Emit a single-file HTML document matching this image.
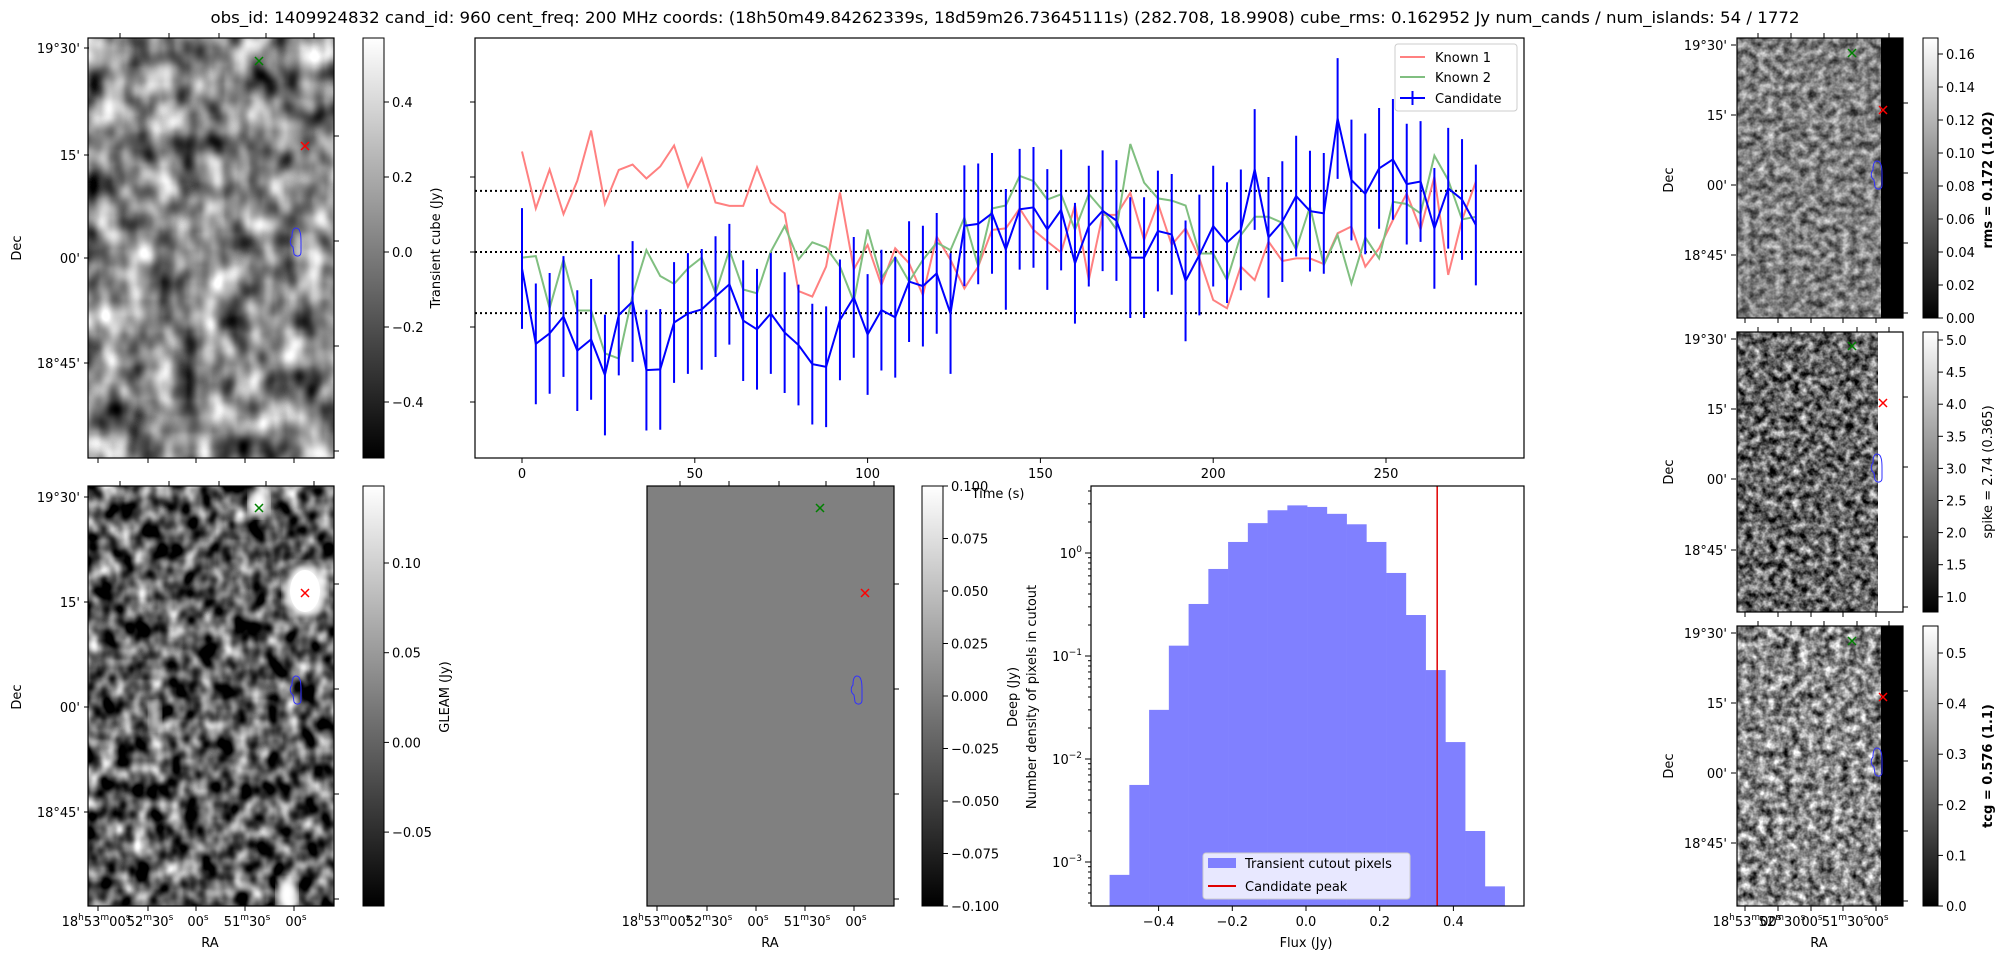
<!DOCTYPE html>
<html><head><meta charset="utf-8">
<style>
html,body{margin:0;padding:0;background:#fff;}
svg{display:block;font-family:"DejaVu Sans","Liberation Sans",sans-serif;}
text{fill:#000;}
</style></head>
<body>
<svg id="fig" xmlns="http://www.w3.org/2000/svg" width="2006" height="960" viewBox="0 0 2006 960">
<defs>
  <filter id="texA" x="0" y="0" width="1" height="1" color-interpolation-filters="sRGB">
    <feTurbulence type="fractalNoise" baseFrequency="0.04 0.03" numOctaves="2" seed="3"/>
    <feColorMatrix type="matrix" values="1.5 0 0 0 -0.22  1.5 0 0 0 -0.22  1.5 0 0 0 -0.22  0 0 0 0 1"/>
  </filter>
  <filter id="texB" x="0" y="0" width="1" height="1" color-interpolation-filters="sRGB">
    <feTurbulence type="fractalNoise" baseFrequency="0.06 0.05" numOctaves="2" seed="7"/>
    <feColorMatrix type="matrix" values="1.8 0 0 0 -0.55  1.8 0 0 0 -0.55  1.8 0 0 0 -0.55  0 0 0 0 1"/>
  </filter>
  <filter id="texC" x="0" y="0" width="1" height="1" color-interpolation-filters="sRGB">
    <feTurbulence type="fractalNoise" baseFrequency="0.12" numOctaves="3" seed="11"/>
    <feColorMatrix type="matrix" values="1.0 0 0 0 0  1.0 0 0 0 0  1.0 0 0 0 0  0 0 0 0 1"/>
  </filter>
  <filter id="texE" x="0" y="0" width="1" height="1" color-interpolation-filters="sRGB">
    <feTurbulence type="fractalNoise" baseFrequency="0.12" numOctaves="3" seed="13"/>
    <feColorMatrix type="matrix" values="1.5 0 0 0 -0.22  1.5 0 0 0 -0.22  1.5 0 0 0 -0.22  0 0 0 0 1"/>
  </filter>
  <filter id="texD" x="0" y="0" width="1" height="1" color-interpolation-filters="sRGB">
    <feTurbulence type="fractalNoise" baseFrequency="0.13" numOctaves="3" seed="21"/>
    <feColorMatrix type="matrix" values="1.5 0 0 0 -0.35  1.5 0 0 0 -0.35  1.5 0 0 0 -0.35  0 0 0 0 1"/>
  </filter>
  <filter id="blur4"><feGaussianBlur stdDeviation="4"/></filter>
  <linearGradient id="cbar" x1="0" y1="0" x2="0" y2="1">
    <stop offset="0" stop-color="#ffffff"/><stop offset="1" stop-color="#000000"/>
  </linearGradient>
  <clipPath id="clipLC"><rect x="475" y="38" width="1049" height="420"/></clipPath>
  <clipPath id="clipGL"><rect x="88" y="486" width="246" height="420"/></clipPath>
</defs>

<text x="1005" y="23" font-size="16" text-anchor="middle" textLength="1589" lengthAdjust="spacingAndGlyphs">obs_id: 1409924832 cand_id: 960 cent_freq: 200 MHz coords: (18h50m49.84262339s, 18d59m26.73645111s) (282.708, 18.9908) cube_rms: 0.162952 Jy num_cands / num_islands: 54 / 1772</text>

<g>
  <rect x="88" y="38" width="246" height="420" filter="url(#texA)"/>
  <rect x="88" y="38" width="246" height="420" fill="none" stroke="#000" stroke-width="1.2"/>
</g>
<rect x="363" y="38" width="21" height="420" fill="url(#cbar)" stroke="#000" stroke-width="1"/>
<text transform="translate(440,248) rotate(-90)" font-size="13" text-anchor="middle">Transient cube (Jy)</text>

<g clip-path="url(#clipGL)">
  <rect x="88" y="486" width="246" height="420" filter="url(#texB)"/>
  <ellipse cx="305" cy="591" rx="20" ry="26" fill="#fff" filter="url(#blur4)"/>
  <ellipse cx="305" cy="591" rx="15" ry="21" fill="#fff"/>
  <ellipse cx="259" cy="503" rx="10" ry="14" fill="#fff" filter="url(#blur4)"/>
  <ellipse cx="287" cy="895" rx="10" ry="16" fill="#fff" filter="url(#blur4)"/>
  <ellipse cx="155" cy="716" rx="6" ry="14" fill="#ccc" filter="url(#blur4)"/>
</g>
<rect x="88" y="486" width="246" height="420" fill="none" stroke="#000" stroke-width="1.2"/>
<rect x="363" y="486" width="21" height="420" fill="url(#cbar)" stroke="#000" stroke-width="1"/>
<text transform="translate(449,697) rotate(-90)" font-size="13" text-anchor="middle">GLEAM (Jy)</text>

<rect x="647" y="486" width="247" height="420" fill="#808080" stroke="#000" stroke-width="1.2"/>
<rect x="922" y="486" width="21" height="420" fill="url(#cbar)" stroke="#000" stroke-width="1"/>
<text transform="translate(1017,697) rotate(-90)" font-size="13" text-anchor="middle">Deep (Jy)</text>

<rect x="1737" y="38" width="144" height="280" filter="url(#texC)"/>
<rect x="1881" y="38" width="22" height="280" fill="#000"/>
<rect x="1737" y="38" width="166" height="280" fill="none" stroke="#000" stroke-width="1.2"/>
<rect x="1923" y="38" width="15" height="280" fill="url(#cbar)" stroke="#000" stroke-width="1"/>
<text transform="translate(1992,180) rotate(-90)" font-size="13" font-weight="bold" text-anchor="middle">rms = 0.172 (1.02)</text>

<rect x="1737" y="332" width="141" height="280" filter="url(#texD)"/>
<rect x="1878" y="332" width="25" height="280" fill="#fff"/>
<rect x="1737" y="332" width="166" height="280" fill="none" stroke="#000" stroke-width="1.2"/>
<rect x="1923" y="332" width="15" height="280" fill="url(#cbar)" stroke="#000" stroke-width="1"/>
<text transform="translate(1992,472) rotate(-90)" font-size="13" text-anchor="middle">spike = 2.74 (0.365)</text>

<rect x="1737" y="626" width="144" height="280" filter="url(#texE)"/>
<rect x="1881" y="626" width="22" height="280" fill="#000"/>
<rect x="1737" y="626" width="166" height="280" fill="none" stroke="#000" stroke-width="1.2"/>
<rect x="1923" y="626" width="15" height="280" fill="url(#cbar)" stroke="#000" stroke-width="1"/>
<text transform="translate(1992,766) rotate(-90)" font-size="13" font-weight="bold" text-anchor="middle">tcg = 0.576 (1.1)</text>

<rect x="475" y="38" width="1049" height="420" fill="none" stroke="#000" stroke-width="1.2"/>
<g id="lc" clip-path="url(#clipLC)"></g>
<g id="lcAxes"></g>
<text x="998" y="498" font-size="13" text-anchor="middle">Time (s)</text>

<g id="hist"></g>
<rect x="1091" y="486" width="433" height="420" fill="none" stroke="#000" stroke-width="1.2"/>
<text transform="translate(1036,697) rotate(-90)" font-size="13" text-anchor="middle">Number density of pixels in cutout</text>
<text x="1306" y="947" font-size="13" text-anchor="middle">Flux (Jy)</text>

<g id="misc"></g>
</svg>

<script>
var lcTimes = [];
for (var i = 0; i < 70; i++) lcTimes.push(i * 4);
var known1 = [0.268,0.116,0.22,0.101,0.19,0.324,0.128,0.219,0.233,0.196,0.228,0.284,0.174,0.249,0.132,0.123,0.123,0.226,0.132,0.103,-0.104,-0.119,-0.039,0.159,-0.046,0.019,-0.088,0.01,-0.03,-0.115,0.041,-0.021,-0.097,-0.039,0.059,0.063,0.116,0.059,0.028,-0.001,0.125,-0.075,0.099,0.099,0.158,0.032,0.13,0.019,0.063,-0.017,-0.128,-0.15,-0.039,-0.075,0.028,-0.024,-0.017,-0.017,-0.032,0.05,0.068,-0.039,0.01,0.085,0.156,0.06,0.201,-0.061,0.085,0.188];
var known2 = [-0.015,-0.011,-0.15,-0.02,-0.156,-0.156,-0.27,-0.284,-0.115,0.005,-0.064,-0.085,-0.044,-0.015,-0.11,0.005,-0.1,-0.11,0.001,0.069,-0.02,0.026,0.012,-0.039,-0.132,0.06,-0.07,-0.014,-0.079,-0.021,0.025,0.005,0.092,-0.039,0.116,0.124,0.203,0.189,0.14,0.154,0.059,0.155,0.112,0.06,0.288,0.185,0.143,0.137,0.124,-0.004,-0.004,-0.075,0.045,0.094,0.094,0.078,0.007,0.121,-0.035,0.045,-0.084,0.039,-0.017,0.134,0.128,0.103,0.257,0.192,0.087,0.094];
var candidate = [-0.044,-0.245,-0.217,-0.172,-0.263,-0.233,-0.328,-0.168,-0.132,-0.315,-0.313,-0.188,-0.164,-0.153,-0.119,-0.086,-0.183,-0.206,-0.164,-0.215,-0.248,-0.299,-0.306,-0.181,-0.121,-0.22,-0.155,-0.174,-0.079,-0.091,-0.057,-0.164,0.07,0.075,0.103,0.007,0.114,0.119,0.06,0.112,-0.03,0.069,0.11,0.084,-0.015,-0.015,0.056,0.047,-0.077,-0.008,0.069,0.025,0.059,0.22,0.039,0.081,0.149,0.109,0.103,0.356,0.192,0.155,0.223,0.247,0.181,0.188,0.063,0.17,0.14,0.072];
var candidateErr = 0.161;
var cubeRms = 0.162952;
var lcXTicks = [0, 50, 100, 150, 200, 250];
var lcYTicks = [-0.4, -0.2, 0.0, 0.2, 0.4];

var histStart = -0.533;
var histBinWidth = 0.0536;
var histDensity = [0.00075,0.0056,0.030,0.126,0.32,0.70,1.28,1.95,2.6,2.9,2.8,2.4,1.9,1.28,0.64,0.25,0.073,0.0146,0.0020,0.00058];
var candidatePeak = 0.356;
var histXTicks = [-0.4, -0.2, 0.0, 0.2, 0.4];
var histXTickLabels = ["\u22120.4", "\u22120.2", "0.0", "0.2", "0.4"];
var histYDecades = [0, -1, -2, -3];

var transCbTicks = ["0.4","0.2","0.0","\u22120.2","\u22120.4"];
var gleamCbTicks = ["0.10","0.05","0.00","\u22120.05"];
var deepCbTicks = ["0.100","0.075","0.050","0.025","0.000","\u22120.025","\u22120.050","\u22120.075","\u22120.100"];
var rmsCbTicks = ["0.16","0.14","0.12","0.10","0.08","0.06","0.04","0.02","0.00"];
var spikeCbTicks = ["5.0","4.5","4.0","3.5","3.0","2.5","2.0","1.5","1.0"];
var tcgCbTicks = ["0.5","0.4","0.3","0.2","0.1","0.0"];

var NS = "http://www.w3.org/2000/svg";
function mk(tag, attrs, parent) {
  var e = document.createElementNS(NS, tag);
  for (var k in attrs) e.setAttribute(k, attrs[k]);
  parent.appendChild(e);
  return e;
}
function txt(str, x, y, size, anchor, parent) {
  var t = mk("text", {x: x, y: y, "font-size": size, "text-anchor": anchor || "start"}, parent);
  t.textContent = str;
  return t;
}

function xL(t) { return 522 + t * 3.456; }
function yL(v) { return 252 - v * 375; }
function xH(f) { return 1306 + f * 368.5; }
function yH(d) { return 553 - Math.log10(d) * 103; }

var lc = document.getElementById("lc");
var lcAxes = document.getElementById("lcAxes");
var hist = document.getElementById("hist");
var misc = document.getElementById("misc");

[cubeRms, 0, -cubeRms].forEach(function (v) {
  var l = mk("line", {x1: 475, x2: 1524, y1: yL(v), y2: yL(v), stroke: "#000", "stroke-width": 2, "stroke-dasharray": "2,3"}, lc);
  
  
});

function seriesPath(vals) {
  var d = "";
  for (var i = 0; i < vals.length; i++) d += (i ? "L" : "M") + xL(lcTimes[i]).toFixed(1) + "," + yL(vals[i]).toFixed(1);
  return d;
}
var p1 = mk("path", {d: seriesPath(known1), fill: "none", stroke: "#ff8080", "stroke-width": 2}, lc);


var p2 = mk("path", {d: seriesPath(known2), fill: "none", stroke: "#80bf80", "stroke-width": 2}, lc);


for (var i = 0; i < candidate.length; i++) {
  var eb = mk("line", {x1: xL(lcTimes[i]), x2: xL(lcTimes[i]), y1: yL(candidate[i] - candidateErr), y2: yL(candidate[i] + candidateErr), stroke: "#0000ff", "stroke-width": 2}, lc);
  
  
}
var p3 = mk("path", {d: seriesPath(candidate), fill: "none", stroke: "#0000ff", "stroke-width": 2}, lc);



lcXTicks.forEach(function (t) {
  var tk = mk("line", {x1: xL(t), x2: xL(t), y1: 458, y2: 463, stroke: "#000"}, lcAxes);
  
  
  var lb = txt(String(t), xL(t), 478, 13, "middle", lcAxes);
  
  
});
lcYTicks.forEach(function (v) {
  var tk = mk("line", {x1: 470, x2: 475, y1: yL(v), y2: yL(v), stroke: "#000"}, lcAxes);
  
  
});

var lg = mk("g", {}, lcAxes);


mk("rect", {x: 1395, y: 44, width: 122, height: 67, rx: 3, fill: "#fff", "fill-opacity": 0.85, stroke: "#ccc"}, lg);
mk("line", {x1: 1400, x2: 1425, y1: 57, y2: 57, stroke: "#ff8080", "stroke-width": 2}, lg);
var le1 = txt("Known 1", 1435, 62, 13, "start", lg);


mk("line", {x1: 1400, x2: 1425, y1: 77, y2: 77, stroke: "#80bf80", "stroke-width": 2}, lg);
var le2 = txt("Known 2", 1435, 82, 13, "start", lg);


mk("line", {x1: 1400, x2: 1425, y1: 98, y2: 98, stroke: "#0000ff", "stroke-width": 2}, lg);
mk("line", {x1: 1412.5, x2: 1412.5, y1: 91, y2: 105, stroke: "#0000ff", "stroke-width": 2}, lg);
var le3 = txt("Candidate", 1435, 103, 13, "start", lg);



for (var b = 0; b < histDensity.length; b++) {
  var x0 = xH(histStart + b * histBinWidth), x1 = xH(histStart + (b + 1) * histBinWidth);
  var yt = yH(histDensity[b]);
  var bar = mk("rect", {x: x0, y: yt, width: x1 - x0 + 0.3, height: 906 - yt, fill: "#8080ff"}, hist);
  
  
}
var pk = mk("line", {x1: xH(candidatePeak), x2: xH(candidatePeak), y1: 486, y2: 906, stroke: "#e00000", "stroke-width": 1.5}, hist);


histXTicks.forEach(function (f, i) {
  var tk = mk("line", {x1: xH(f), x2: xH(f), y1: 906, y2: 911, stroke: "#000"}, hist);
  
  
  var lb = txt(histXTickLabels[i], xH(f), 926, 13, "middle", hist);
  
  
});
histYDecades.forEach(function (e) {
  var y = yH(Math.pow(10, e));
  mk("line", {x1: 1085, x2: 1091, y1: y, y2: y, stroke: "#000"}, hist);
  var lb = mk("text", {x: 1082, y: y + 5, "font-size": 13, "text-anchor": "end"}, hist);
  
  
  lb.textContent = "10";
  var sup = mk("tspan", {dy: -6, "font-size": 9}, lb);
  sup.textContent = (e < 0 ? "\u2212" + (-e) : String(e));
  for (var m = 2; m <= 9; m++) {
    var ym = yH(Math.pow(10, e) * m);
    if (ym > 486) mk("line", {x1: 1088, x2: 1091, y1: ym, y2: ym, stroke: "#000"}, hist);
  }
  if (e === -3) for (var m2 = 4; m2 <= 9; m2++) mk("line", {x1: 1088, x2: 1091, y1: yH(Math.pow(10, -4) * m2), y2: yH(Math.pow(10, -4) * m2), stroke: "#000"}, hist);
});
var hl = mk("g", {}, hist);


mk("rect", {x: 1203, y: 853, width: 207, height: 46, rx: 3, fill: "#e8e8ff", stroke: "#ccc"}, hl);
mk("rect", {x: 1208, y: 858, width: 28, height: 10, fill: "#8080ff"}, hl);
var hle1 = txt("Transient cutout pixels", 1245, 868, 13, "start", hl);


mk("line", {x1: 1208, x2: 1236, y1: 886, y2: 886, stroke: "#e00000", "stroke-width": 2}, hl);
var hle2 = txt("Candidate peak", 1245, 891, 13, "start", hl);



function cbTicks(labels, x, yTop, yStep) {
  labels.forEach(function (s, i) {
    var y = yTop + i * yStep;
    mk("line", {x1: x, x2: x + 5, y1: y, y2: y, stroke: "#000"}, misc);
    var lb = txt(s, x + 8, y + 5, 13, "start", misc);
    
    
  });
}
cbTicks(transCbTicks, 384, 102, 75);
cbTicks(gleamCbTicks, 384, 563, 89.7);
cbTicks(deepCbTicks, 943, 486, 52.5);
cbTicks(rmsCbTicks, 1938, 54, 33.0);
cbTicks(spikeCbTicks, 1938, 340, 32.1);
cbTicks(tcgCbTicks, 1938, 653, 50.6);

function dec(labels, ys, xRight) {
  labels.forEach(function (s, i) {
    mk("line", {x1: xRight + 1, x2: xRight + 6, y1: ys[i], y2: ys[i], stroke: "#000"}, misc);
    var lb = txt(s, xRight - 3, ys[i] + 5, 13, "end", misc);
    
    
  });
}
var decLabels = ["19\u00b030'", "15'", "00'", "18\u00b045'"];
dec(decLabels, [48, 155, 258, 363], 83);
dec(decLabels, [497, 602, 707, 812], 83);
dec(decLabels, [45, 115, 185, 255], 1730);
dec(decLabels, [339, 409, 479, 550], 1730);
dec(decLabels, [633, 703, 773, 843], 1730);
[[16, 248], [16, 697], [1668, 180], [1668, 472], [1668, 766]].forEach(function (p) {
  var d = mk("text", {transform: "translate(" + (p[0] + 5) + "," + p[1] + ") rotate(-90)", "font-size": 13, "text-anchor": "middle"}, misc);
  
  
  d.textContent = "Dec";
});

function markers(gx, gy, rx, ry, cx, cy) {
  var s = 4;
  var g = mk("path", {d: "M" + (gx - s) + "," + (gy - s) + "L" + (gx + s) + "," + (gy + s) + "M" + (gx - s) + "," + (gy + s) + "L" + (gx + s) + "," + (gy - s), stroke: "#008000", "stroke-width": 1.5}, misc);
  
  
  var r = mk("path", {d: "M" + (rx - s) + "," + (ry - s) + "L" + (rx + s) + "," + (ry + s) + "M" + (rx - s) + "," + (ry + s) + "L" + (rx + s) + "," + (ry - s), stroke: "#ff0000", "stroke-width": 1.5}, misc);
  
  
  var c = mk("path", {d: "M" + (cx + 1) + "," + (cy - 14) + "C" + (cx + 6) + "," + (cy - 14) + " " + (cx + 6) + "," + (cy - 5) + " " + (cx + 6) + "," + cy + "L" + (cx + 6) + "," + (cy + 10) + "C" + (cx + 6) + "," + (cy + 15) + " " + (cx + 1) + "," + (cy + 15) + " " + (cx - 1) + "," + (cy + 12) + "L" + (cx - 2) + "," + (cy + 5) + "C" + (cx - 6) + "," + (cy + 2) + " " + (cx - 5) + "," + (cy - 3) + " " + (cx - 3) + "," + (cy - 5) + "C" + (cx - 3) + "," + (cy - 12) + " " + (cx - 1) + "," + (cy - 14) + " " + (cx + 1) + "," + (cy - 14) + "Z", fill: "none", stroke: "#3030ff", "stroke-width": 1}, misc);
  
  
}
markers(259, 61, 305, 146, 295, 242);
markers(259, 508, 305, 593, 295, 690);
markers(820, 508, 865, 593, 856, 690);
markers(1852, 53, 1883, 110, 1876, 175);
markers(1852, 346, 1883, 403, 1876, 468);
markers(1852, 641, 1883, 697, 1876, 762);

function frameTicks(x0, x1, y0, y1, topX, botX, rightY) {
  topX.forEach(function (x) { mk("line", {x1: x, x2: x, y1: y0 - 5, y2: y0, stroke: "#000"}, misc); });
  botX.forEach(function (x) { mk("line", {x1: x, x2: x, y1: y1, y2: y1 + 5, stroke: "#000"}, misc); });
  rightY.forEach(function (y) { mk("line", {x1: x1, x2: x1 + 5, y1: y, y2: y, stroke: "#000"}, misc); });
}
frameTicks(88, 334, 38, 458, [120, 169, 219, 266, 314], [98, 148, 196, 245, 294], [136, 241, 346, 451]);
frameTicks(88, 334, 486, 906, [120, 169, 219, 266, 314], [98, 148, 196, 245, 294], [584, 689, 794, 899]);
frameTicks(647, 894, 486, 906, [680, 729, 779, 826, 874], [657, 707, 756, 805, 854], [584, 689, 794, 899]);
[[38, 318], [332, 612], [626, 906]].forEach(function (r) {
  frameTicks(1737, 1903, r[0], r[1], [1758, 1791, 1824, 1857, 1889], [1745, 1778, 1811, 1843, 1876], [r[0] + 65, r[0] + 135, r[0] + 205, r[0] + 275]);
});

function raLabels(xs, y) {
  var parts = [["18", "h", "53", "m", "00", "s"], ["52", "m", "30", "s"], ["00", "s"], ["51", "m", "30", "s"], ["00", "s"]];
  parts.forEach(function (p, i) {
    var t = mk("text", {x: xs[i], y: y, "font-size": 13, "text-anchor": "middle"}, misc);
    
    
    for (var j = 0; j < p.length; j++) {
      var sp = mk("tspan", (j % 2) ? {"font-size": 9, dy: -6} : {dy: (j ? 6 : 0)}, t);
      sp.textContent = p[j];
    }
  });
}
raLabels([96, 150, 198, 247, 296], 926);
raLabels([656, 709, 758, 807, 856], 926);
raLabels([1747, 1782, 1812, 1845, 1878], 926);
[[210, 947], [770, 947], [1819, 947]].forEach(function (p) {
  var t = txt("RA", p[0], p[1], 13, "middle", misc);
  
  
});
</script>
</body></html>
